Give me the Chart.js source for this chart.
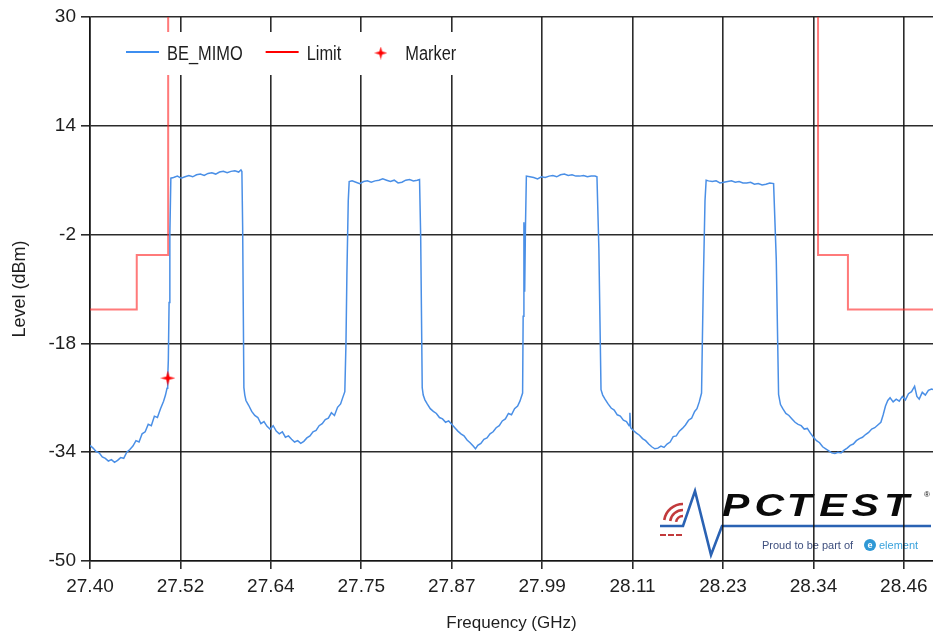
<!DOCTYPE html>
<html><head><meta charset="utf-8">
<script src="https://cdn.jsdelivr.net/npm/chart.js@4.4.1/dist/chart.umd.min.js"></script>
<style>html,body{margin:0;padding:0;background:#fff;}canvas{display:block;}</style>
</head><body>
<canvas id="c" width="933" height="637"></canvas>
<script>
// ---------- DATA ----------
const xTickLabels = ['27.40','27.52','27.64','27.75','27.87','27.99','28.11','28.23','28.34','28.46'];
const yTickValues = [-50, -34, -18, -2, 14, 30];

const beFreqs = [
 27.400,27.404,27.408,27.412,27.416,27.420,27.424,27.428,27.432,27.436,27.440,27.444,27.448,27.452,27.456,27.460,27.464,27.468,27.472,27.476,27.480,27.484,27.488,27.492,27.496,27.4985,27.5005,27.5014,27.5022,27.5032,27.5042,27.5055,
 27.509,27.514,27.519,27.524,27.529,27.534,27.539,27.544,27.549,27.554,27.559,27.564,27.569,27.574,27.579,27.584,27.589,27.594,27.597,
 27.5982,27.5992,27.6008,27.6020,27.6035,
 27.607,27.611,27.615,27.619,27.623,27.627,27.631,27.635,27.639,27.643,27.647,27.651,27.655,27.659,27.663,27.667,27.671,27.675,27.679,27.683,27.687,27.691,27.695,27.699,27.703,27.707,27.711,27.715,27.719,27.723,27.727,27.730,27.7325,
 27.7340,27.7352,27.7370,27.7382,
 27.742,27.747,27.752,27.757,27.762,27.767,27.772,27.777,27.782,27.787,27.792,27.797,27.802,27.807,27.812,27.817,27.822,27.827,27.830,
 27.8315,27.8335,27.8348,27.8370,
 27.840,27.844,27.848,27.852,27.856,27.860,27.864,27.868,27.872,27.876,27.880,27.884,27.888,27.892,27.896,27.900,27.903,27.906,27.910,27.914,27.918,27.922,27.926,27.930,27.934,27.938,27.942,27.946,27.950,27.954,27.958,27.961,27.9645,
 27.9652,27.9662,27.9672,27.9682,27.9694,
 27.974,27.979,27.984,27.989,27.994,27.999,28.004,28.009,28.014,28.019,28.024,28.029,28.034,28.039,28.044,28.049,28.054,28.059,28.0615,
 28.0640,28.0668,28.0690,
 28.072,28.076,28.080,28.084,28.088,28.092,28.096,28.100,28.1035,28.1045,28.1055,28.109,28.113,28.117,28.121,28.125,28.129,28.133,28.137,28.141,28.145,28.149,28.153,28.157,28.161,28.165,28.169,28.173,28.177,28.181,28.185,28.189,28.192,28.195,28.198,
 28.1990,28.2005,28.2025,28.2040,
 28.207,28.212,28.217,28.222,28.227,28.232,28.237,28.242,28.247,28.252,28.257,28.262,28.267,28.272,28.277,28.282,28.287,28.292,
 28.2955,28.2985,28.3010,
 28.304,28.308,28.312,28.316,28.320,28.324,28.328,28.332,28.336,28.340,28.344,28.348,28.352,28.356,28.360,28.364,28.368,28.372,28.376,28.380,28.384,28.388,28.392,28.396,28.400,28.404,28.408,28.412,28.416,28.420,28.424,28.428,28.432,28.435,28.438,28.441,28.444,28.448,28.452,28.456,28.460,28.464,28.468,28.472,28.476,28.479,28.482,28.486,28.490,28.494,28.498,28.500
];
const beLevels = [
 -33.0,-33.4,-33.9,-34.1,-34.7,-34.9,-35.3,-35.1,-35.5,-35.2,-34.8,-34.9,-34.0,-33.6,-33.1,-32.3,-32.5,-31.3,-31.0,-29.9,-30.1,-28.7,-28.9,-27.6,-26.5,-25.6,-24.6,-23.1,-20.5,-12.0,-2.0,6.3,
 6.4,6.6,6.3,6.5,6.7,6.5,6.8,6.9,6.7,7.0,7.1,6.9,7.2,7.3,7.1,7.3,7.4,7.2,7.5,
 7.3,-1.0,-24.5,-25.6,-26.4,
 -27.1,-28.0,-28.6,-28.9,-29.8,-29.5,-30.2,-30.6,-30.1,-30.9,-31.3,-31.0,-31.8,-31.6,-32.1,-32.5,-32.3,-32.7,-32.4,-31.9,-31.6,-31.0,-30.8,-30.1,-29.8,-29.2,-29.0,-28.2,-28.6,-27.4,-26.9,-25.9,-25.1,
 -18.0,-8.0,3.0,5.8,
 5.9,5.7,5.5,5.8,5.9,5.7,5.9,6.0,6.2,6.0,5.8,6.0,5.6,5.7,6.0,6.1,5.9,6.0,6.1,
 -2.3,-24.5,-25.6,-26.3,
 -26.9,-27.6,-28.0,-28.3,-28.9,-29.1,-29.6,-29.4,-29.9,-30.4,-30.9,-31.3,-31.6,-32.2,-32.6,-33.1,-33.5,-33.0,-32.7,-32.1,-31.9,-31.3,-31.0,-30.4,-30.1,-29.4,-29.1,-28.3,-28.5,-27.6,-27.2,-26.5,-25.3,
 -14.0,-0.2,-10.4,-1.0,6.6,
 6.5,6.4,6.2,6.5,6.4,6.6,6.7,6.5,6.8,6.9,6.7,6.8,6.6,6.6,6.7,6.5,6.6,6.6,6.5,
 -4.0,-24.8,-25.6,
 -26.2,-26.9,-27.5,-27.8,-28.5,-28.7,-29.3,-29.5,-30.1,-28.2,-30.4,-30.8,-31.2,-31.5,-32.0,-32.3,-32.8,-33.2,-33.5,-33.4,-33.1,-33.3,-32.8,-32.5,-31.7,-31.6,-30.9,-30.5,-30.0,-29.3,-29.0,-28.0,-27.6,-26.6,-25.3,
 -18.0,-8.0,3.0,6.0,
 5.9,5.8,5.9,5.6,5.7,5.8,5.9,5.7,5.8,5.6,5.6,5.7,5.4,5.5,5.3,5.4,5.6,5.5,
 -5.7,-25.5,-27.0,
 -27.6,-28.3,-28.6,-29.1,-29.6,-29.9,-30.1,-30.6,-30.5,-31.2,-31.8,-32.3,-32.6,-33.2,-33.5,-33.8,-34.1,-34.2,-34.0,-34.1,-33.7,-33.4,-33.0,-32.8,-32.3,-32.0,-31.8,-31.4,-31.1,-30.6,-30.4,-30.0,-29.6,-28.5,-27.2,-26.4,-26.0,-26.6,-26.2,-26.5,-25.8,-26.3,-25.4,-25.1,-24.3,-25.8,-26.2,-25.2,-25.6,-24.9,-24.7,-24.8
];

const limitFreqs  = [27.400, 27.461, 27.461, 27.502, 27.502, 27.926, 28.350, 28.350, 28.389, 28.389, 28.500];
const limitLevels = [-13, -13, -5, -5, 30, null, 30, -5, -5, -13, -13];

const markerFreqs  = [27.5016];
const markerLevels = [-23.1];

const xMin = 27.40, xMax = 28.50, xTickStep = 0.118;
const yMin = -50, yMax = 30;

// ---------- STYLE ----------
const REG = "'Liberation Sans',Arial,sans-serif";
const GRID = 'rgba(20,20,20,0.9)';

function makeStar(size) {
  const c = document.createElement('canvas');
  c.width = c.height = size;
  const g = c.getContext('2d');
  const r = size / 2, ri = r * 0.3;
  g.fillStyle = '#ff0000';
  g.beginPath();
  for (let i = 0; i < 8; i++) {
    const a = -Math.PI / 2 + i * Math.PI / 4;
    const rr = (i % 2) ? ri : r;
    g.lineTo(r + rr * Math.cos(a), r + rr * Math.sin(a));
  }
  g.closePath(); g.fill();
  return c;
}
const starBig = makeStar(15);
const starSmall = makeStar(13);

const zip = (xs, ys) => xs.map((x, i) => ({x: x, y: ys[i]}));

// ---------- PLUGINS ----------
const logoPlugin = {
  id: 'logo',
  beforeDraw(chart) {
    const {ctx, chartArea} = chart;
    const ox = chartArea.right - 275, oy = chartArea.bottom - 74;
    ctx.save();
    ctx.strokeStyle = '#c23a3c'; ctx.lineWidth = 2.6; ctx.lineCap = 'butt';
    [7, 13, 19].forEach(r => {
      ctx.beginPath(); ctx.arc(ox + 25, oy + 36, r, Math.PI * 1.05, Math.PI * 1.5); ctx.stroke();
    });
    ctx.lineWidth = 2;
    [[2, 8], [10, 16], [18, 24]].forEach(d => {
      ctx.beginPath(); ctx.moveTo(ox + d[0], oy + 48); ctx.lineTo(ox + d[1], oy + 48); ctx.stroke();
    });
    ctx.strokeStyle = '#2a62b3'; ctx.lineWidth = 2.6; ctx.lineJoin = 'miter';
    ctx.beginPath();
    ctx.moveTo(ox + 2, oy + 39); ctx.lineTo(ox + 25, oy + 39);
    ctx.lineTo(ox + 37, oy + 4); ctx.lineTo(ox + 53, oy + 68);
    ctx.lineTo(ox + 64, oy + 39); ctx.lineTo(ox + 273, oy + 39);
    ctx.stroke();
    ctx.fillStyle = '#0a0a0a';
    ctx.font = "italic 900 31px " + REG;
    ctx.textBaseline = 'alphabetic'; ctx.textAlign = 'left';
    'PCTEST'.split('').forEach((ch, i) => {
      ctx.save();
      ctx.translate(ox + 64 + i * 32.4, oy + 29);
      ctx.scale(1.32, 1);
      ctx.fillText(ch, 0, 0);
      ctx.restore();
    });
    ctx.font = "8px " + REG;
    ctx.fillText('®', ox + 266, oy + 10);
    ctx.font = "11px " + REG;
    ctx.fillStyle = '#3e4f7e';
    ctx.fillText('Proud to be part of', ox + 104, oy + 62);
    ctx.fillStyle = '#2f98d5';
    ctx.beginPath(); ctx.arc(ox + 212, oy + 58, 6, 0, Math.PI * 2); ctx.fill();
    ctx.fillStyle = '#fff'; ctx.font = "bold 9px " + REG; ctx.textAlign = 'center';
    ctx.fillText('e', ox + 212, oy + 61);
    ctx.textAlign = 'left'; ctx.fillStyle = '#39a2dc'; ctx.font = "11px " + REG;
    ctx.fillText('element', ox + 221, oy + 62);
    ctx.restore();
  }
};

const LEG_SX = 0.82;
const legendPlugin = {
  id: 'insideLegend',
  afterDatasetsDraw(chart) {
    const {ctx, chartArea} = chart;
    ctx.save();
    ctx.font = "20px " + REG;
    const x0 = chartArea.left + 25, y0 = chartArea.top + 15, h = 43;
    let w = 11;
    chart.data.datasets.forEach(ds => { w += 41 + ctx.measureText(ds.label).width * LEG_SX + 23; });
    ctx.fillStyle = '#fff';
    ctx.fillRect(x0, y0, w, h);
    let x = x0 + 11;
    const cy = y0 + 21;
    chart.data.datasets.forEach(ds => {
      if (ds.showLine === false) {
        ctx.drawImage(starSmall, x + 16.5 - starSmall.width / 2, cy - starSmall.height / 2);
      } else {
        ctx.strokeStyle = ds.legendColor; ctx.lineWidth = 2.2;
        ctx.beginPath(); ctx.moveTo(x, cy - 1); ctx.lineTo(x + 33, cy - 1); ctx.stroke();
      }
      ctx.save();
      ctx.fillStyle = '#1e1e1e'; ctx.textBaseline = 'middle'; ctx.textAlign = 'left';
      ctx.translate(x + 41, cy + 1);
      ctx.scale(LEG_SX, 1);
      ctx.fillText(ds.label, 0, 0);
      ctx.restore();
      x += 41 + ctx.measureText(ds.label).width * LEG_SX + 23;
    });
    ctx.restore();
  }
};

// ---------- CHART ----------
new Chart(document.getElementById('c'), {
  type: 'line',
  data: {
    datasets: [
      { label: 'BE_MIMO', data: zip(beFreqs, beLevels), borderColor: '#4a8fe6', legendColor: '#3d8ef0',
        borderWidth: 1.5, pointRadius: 0, tension: 0, order: 2 },
      { label: 'Limit', data: zip(limitFreqs, limitLevels), borderColor: 'rgba(255,40,40,0.62)', legendColor: '#ff0000',
        borderWidth: 2, pointRadius: 0, tension: 0, spanGaps: false, order: 3 },
      { label: 'Marker', data: zip(markerFreqs, markerLevels), showLine: false, pointStyle: starBig,
        pointRadius: 7, borderColor: '#ff0000', backgroundColor: '#ff0000', order: 1 }
    ]
  },
  options: {
    responsive: false, animation: false, devicePixelRatio: 1,
    layout: { autoPadding: false, padding: { top: 17, right: 0, bottom: 0, left: 0 } },
    plugins: { legend: { display: false }, tooltip: { enabled: false } },
    scales: {
      x: {
        type: 'linear', min: xMin, max: xMax,
        afterBuildTicks: s => { s.ticks = xTickLabels.map((t, i) => ({ value: xMin + i * xTickStep })); },
        afterFit: s => { s.height = 76; s.paddingRight = 0; },
        ticks: { callback: (v, i) => xTickLabels[i], autoSkip: false, maxRotation: 0, color: '#1e1e1e',
                 font: { family: REG, size: 19 }, padding: 6 },
        grid: { color: GRID, lineWidth: 1.6, tickLength: 8 },
        border: { color: GRID, width: 1.6 },
        title: { display: true, text: 'Frequency (GHz)', color: '#1e1e1e', font: { family: REG, size: 17 },
                 padding: { top: 0, bottom: 3 } }
      },
      y: {
        type: 'linear', min: yMin, max: yMax,
        afterBuildTicks: s => { s.ticks = yTickValues.map(v => ({ value: v })); },
        afterFit: s => { s.width = 90; },
        ticks: { color: '#1e1e1e', font: { family: REG, size: 19 }, padding: 5 },
        grid: { color: GRID, lineWidth: 1.6, tickLength: 9 },
        border: { color: GRID, width: 1.6 },
        title: { display: true, text: 'Level (dBm)', color: '#1e1e1e', font: { family: REG, size: 18 },
                 padding: { top: 9, bottom: 0 } }
      }
    }
  },
  plugins: [logoPlugin, legendPlugin]
});
</script>
</body></html>
